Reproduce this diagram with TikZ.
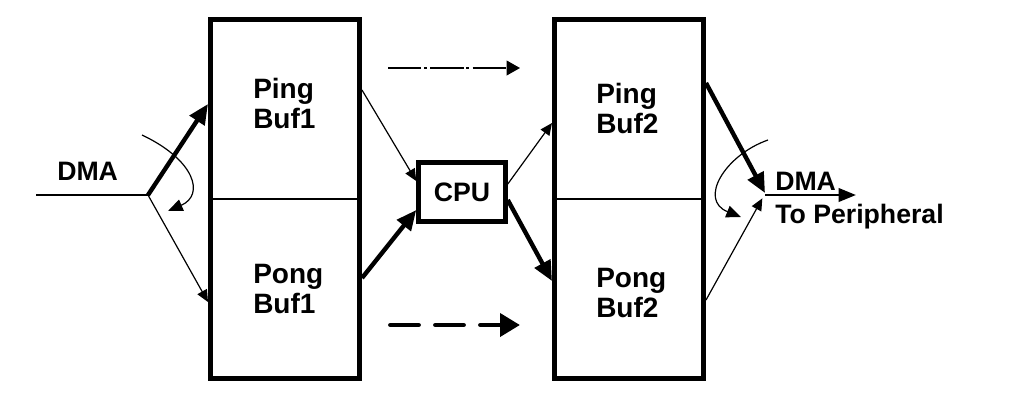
\documentclass[tikz,border=0pt]{standalone}
\usepackage{fontspec}
\setmainfont{Liberation Sans}
\usetikzlibrary{arrows.meta}
\begin{document}
\begin{tikzpicture}[x=0.75pt,y=-0.75pt,
  buf/.style={draw, line width=3.75pt, minimum width=111.75pt, minimum height=269.25pt, inner sep=0pt},
  cpubox/.style={draw, line width=3.4pt, minimum width=65.25pt, minimum height=44.25pt, inner sep=0pt, font=\bfseries\fontsize{20}{24}\selectfont},
  lbl/.style={anchor=base west, inner sep=0pt, align=left, font=\bfseries\fontsize{21}{22.5}\selectfont},
  sidelbl/.style={anchor=base west, inner sep=0pt, font=\bfseries\fontsize{20}{23}\selectfont},
  divider/.style={line width=1.1pt},
  thinarr/.style={line width=0.9pt, -{Triangle[length=9pt,width=8pt]}},
  thickarr/.style={line width=3.3pt, -{Triangle[length=15pt,width=13pt]}},
  curvarr/.style={line width=0.9pt, -{Triangle[length=11pt,width=9pt]}},
  dmaline/.style={line width=1.5pt},
  outarr/.style={line width=2pt, -{Triangle[length=13pt,width=10pt]}},
  dashdot/.style={line width=1.2pt, dash pattern=on 25pt off 2pt on 2.2pt off 2.5pt, -{Triangle[length=10pt,width=11pt]}},
  bigdash/.style={line width=3.6pt, line cap=round, dash pattern=on 21pt off 12.75pt, -{Triangle[length=15pt,width=17pt]}}
]
\useasboundingbox (0,0) rectangle (1009,419);

% buffers
\node[buf] (B1) at (285,199) {};
\node[buf] (B2) at (629,199) {};
\draw[divider] (B1.west) -- (B1.east);
\draw[divider] (B2.west) -- (B2.east);

\node[lbl] (ping1) at (253,128) {Ping\\Buf1};
\node[lbl] (pong1) at (253,313) {Pong\\Buf1};
\node[lbl] (ping2) at (596,133) {Ping\\Buf2};
\node[lbl] (pong2) at (596,317) {Pong\\Buf2};

% CPU
\node[cpubox] (CPU) at (462,192) {CPU};

% left DMA input
\node[sidelbl] (dmain) at (57,180) {DMA};
\coordinate (src) at (36,195);
\coordinate (j1) at (148,195);
\draw[dmaline] (src) -- (j1);
\draw[thickarr] (j1) -- (B1.west |- 0,104);
\draw[thinarr] (j1) -- (B1.west |- 0,302);
\coordinate (c1s) at (142,135);
\coordinate (c1e) at (168,211);
\draw[curvarr] (c1s) .. controls (195,160) and (205,195) .. (c1e);

% buffers to CPU and CPU to buffers
\draw[thinarr] (B1.east |- 0,90) -- (CPU.west |- 0,181);
\draw[thickarr] (B1.east |- 0,278) -- (CPU.west |- 0,210);
\draw[thinarr] (CPU.east |- 0,184) -- (B2.west |- 0,123);
\draw[thickarr] (CPU.east |- 0,200) -- (B2.west |- 0,281);

% legend-like arrows
\coordinate (dd1) at (388,68);
\coordinate (dd2) at (520,68);
\draw[dashdot] (dd1) -- (dd2);
\coordinate (bd1) at (390.5,325);
\coordinate (bd2) at (520,325);
\draw[bigdash] (bd1) -- (bd2);

% right DMA output
\coordinate (j2) at (765,195);
\coordinate (out) at (856,195);
\draw[thickarr] (B2.east |- 0,83) -- ([yshift=1.5pt]j2);
\draw[thinarr] (B2.east |- 0,300) -- ([shift={(-2pt,-2.5pt)}]j2);
\draw[outarr] (j2) -- (out);
\coordinate (c2s) at (768,140);
\coordinate (c2e) at (741,217);
\draw[curvarr] (c2s) .. controls (725,155) and (698,200) .. (c2e);
\node[sidelbl] (dmaout) at (775,190) {DMA};
\node[sidelbl] (periph) at (775,223) {To Peripheral};
\end{tikzpicture}
\end{document}
